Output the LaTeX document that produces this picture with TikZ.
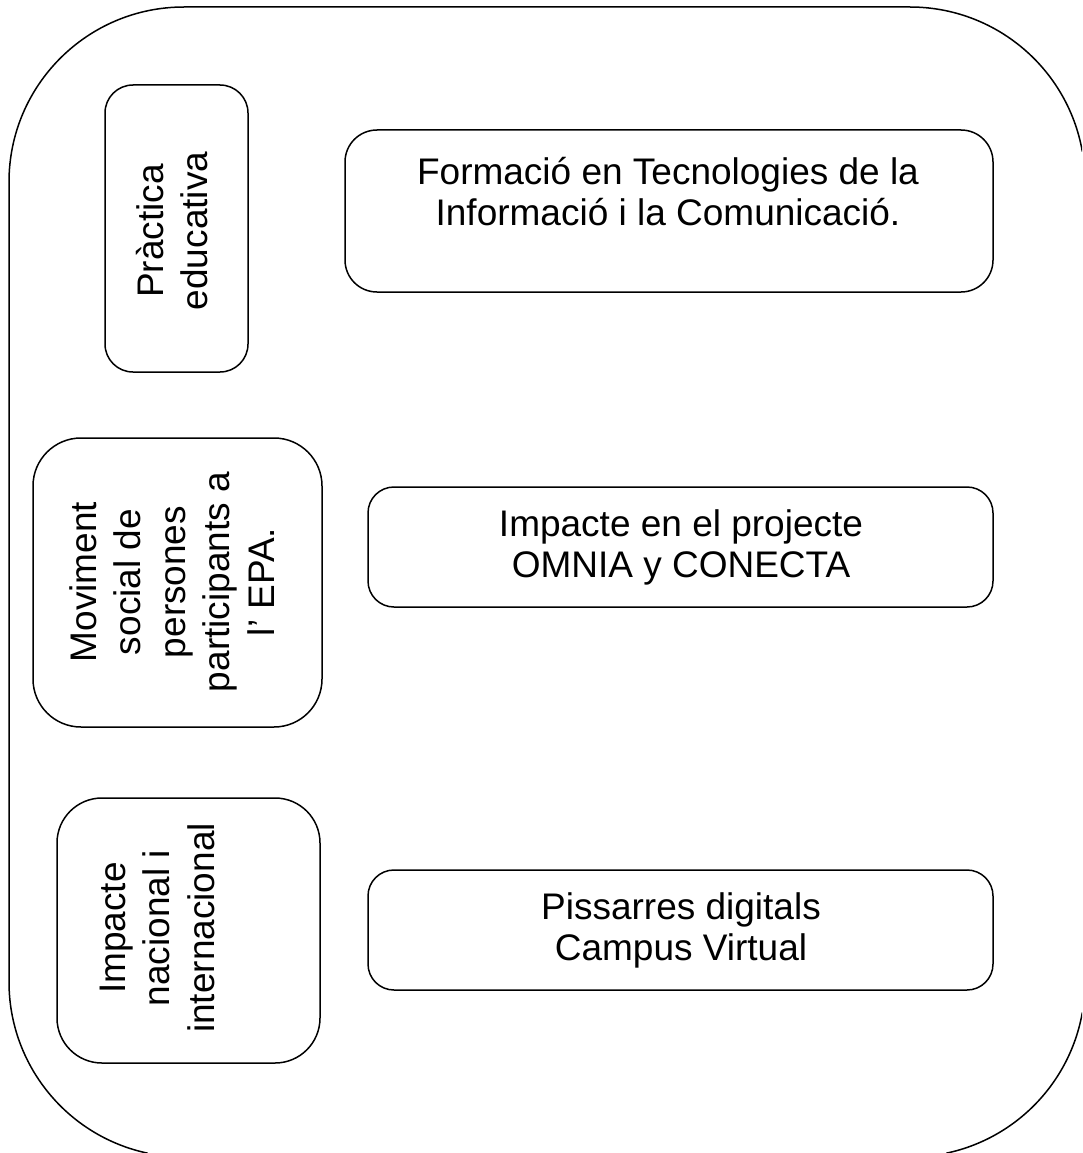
\documentclass[tikz,border=0pt]{standalone}
\usepackage{fontspec}
\setmainfont{Liberation Sans}
\begin{document}
\begin{tikzpicture}[x=1pt, y=-1pt,
    box/.style={draw, line width=1.5pt, rounded corners=#1},
    box/.default=26pt,
    frame/.style={line width=1.5pt},
    txt/.style={align=center, inner sep=0pt, font=\fontsize{37}{41}\selectfont},
    vtxt/.style={txt, rotate=90, font=\fontsize{37}{44.5}\selectfont}]
  \useasboundingbox (0,0) rectangle (1082,1153);
  \clip (0,0) rectangle (1082,1153);
  % outer frame, cut by the page on the right and at the bottom
  \draw[frame] (910,182) ++(10:175pt) arc[start angle=10, end angle=90, radius=175pt]
    -- (184,7) arc[start angle=90, end angle=180, radius=175pt]
    -- (9,982) arc[start angle=180, end angle=258, radius=175pt];
  \draw[frame] (910,982) ++(-78:175pt) arc[start angle=-78, end angle=-10, radius=175pt];

  % left column
  \node[box=28pt, minimum width=143pt, minimum height=287pt] (prac) at (176.5,228.5) {};
  \node[box=48pt, minimum width=289pt, minimum height=289pt] (movi) at (177.5,582.5) {};
  \node[box=45pt, minimum width=263pt, minimum height=265pt] (impn) at (188.5,930.5) {};
  \node[vtxt] (practxt) at (172,231) {Pràctica\\educativa};
  \node[vtxt] (movitxt) at (172,582) {Moviment\\social de\\persones\\participants a\\l’ EPA.};
  \node[vtxt] (impntxt) at (157,928) {Impacte\\nacional i\\internacional};

  % right column
  \node[box=32pt, minimum width=648pt, minimum height=162pt] (form) at (669,211) {};
  \node[box, minimum width=625pt, minimum height=120pt] (omni) at (680.5,547) {};
  \node[box, minimum width=625pt, minimum height=120pt] (piss) at (680.5,930) {};
  \node[txt] (formtxt) at (668,192) {Formació en Tecnologies de la\\Informació i la Comunicació.};
  \node[txt] (omnitxt) at (681,547) {Impacte en el projecte\\OMNIA y CONECTA};
  \node[txt] (pisstxt) at (681,930) {Pissarres digitals\\Campus Virtual};
\end{tikzpicture}
\end{document}
